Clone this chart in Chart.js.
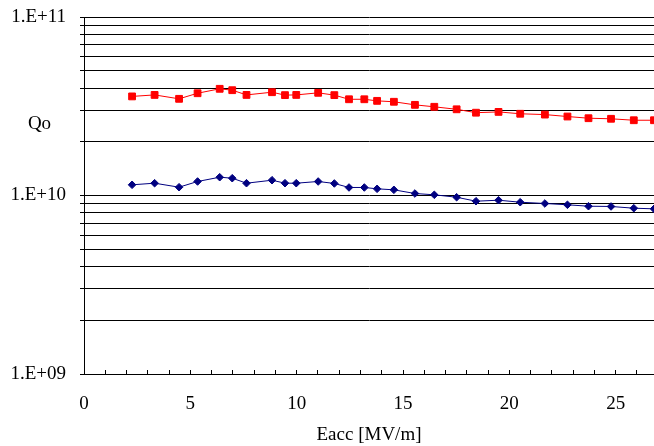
<!DOCTYPE html>
<html>
<head>
<meta charset="utf-8">
<script src="https://cdn.jsdelivr.net/npm/chart.js@4.4.1/dist/chart.umd.min.js"></script>
<style>
  html, body { margin: 0; padding: 0; background: #fff; }
  #wrap { width: 654px; height: 446px; position: relative; }
</style>
</head>
<body>
<div id="wrap"><canvas id="c" width="654" height="446"></canvas></div>
<script>
// Eacc [MV/m] values (shared by both series)
const eacc = [2.26, 3.32, 4.47, 5.34, 6.38, 6.97, 7.64, 8.84, 9.45, 9.98, 11.01, 11.77, 12.46, 13.18, 13.78,
              14.57, 15.56, 16.47, 17.52, 18.43, 19.49, 20.51, 21.67, 22.73, 23.72, 24.78, 25.85, 26.8];
// Qo, upper series (red squares)
const qoRed = [3.59e10, 3.66e10, 3.48e10, 3.74e10, 3.96e10, 3.89e10, 3.66e10, 3.79e10, 3.65e10, 3.66e10, 3.76e10, 3.65e10, 3.46e10, 3.46e10, 3.39e10,
               3.35e10, 3.22e10, 3.14e10, 3.04e10, 2.91e10, 2.94e10, 2.87e10, 2.84e10, 2.77e10, 2.71e10, 2.69e10, 2.64e10, 2.64e10];
// Qo, lower series (navy diamonds)
const qoBlue = [1.148e10, 1.172e10, 1.113e10, 1.198e10, 1.266e10, 1.250e10, 1.172e10, 1.218e10, 1.172e10, 1.172e10, 1.198e10, 1.168e10, 1.109e10, 1.109e10, 1.090e10,
                1.076e10, 1.026e10, 1.009e10, 0.978e10, 0.929e10, 0.941e10, 0.917e10, 0.902e10, 0.887e10, 0.871e10, 0.868e10, 0.849e10, 0.842e10];
// Axis ticks
const xTicks = [0,1,2,3,4,5,6,7,8,9,10,11,12,13,14,15,16,17,18,19,20,21,22,23,24,25,26];
const xLabelled = [0, 5, 10, 15, 20, 25];
const yTicks = [1e9,2e9,3e9,4e9,5e9,6e9,7e9,8e9,9e9,1e10,2e10,3e10,4e10,5e10,6e10,7e10,8e10,9e10,1e11];
const yLabels = {"1000000000": "1.E+09", "10000000000": "1.E+10", "100000000000": "1.E+11"};
const xTitle = "Eacc [MV/m]";
const yTitle = "Qo";

const FONT = "'Liberation Serif', 'Times New Roman', serif";

const yTitlePlugin = {
  id: 'yTitle',
  afterDraw(chart) {
    const ctx = chart.ctx;
    ctx.save();
    ctx.font = "19px " + FONT;
    ctx.fillStyle = '#000';
    ctx.textAlign = 'center';
    ctx.textBaseline = 'alphabetic';
    ctx.fillText(yTitle, 39.5, 129);
    ctx.restore();
  }
};

const noPad = (s) => { s.paddingTop = 0; s.paddingBottom = 0; s.paddingLeft = 0; s.paddingRight = 0; };
const toPts = (ys) => eacc.map((x, i) => ({x: x, y: ys[i]}));

new Chart(document.getElementById('c'), {
  type: 'scatter',
  data: {
    datasets: [
      {
        data: toPts(qoRed),
        showLine: true,
        borderColor: '#FF0000',
        backgroundColor: '#FF0000',
        borderWidth: 1,
        pointStyle: 'rect',
        pointRadius: 4.8,
        pointBorderWidth: 1,
        pointBorderColor: '#FF0000',
        pointBackgroundColor: '#FF0000'
      },
      {
        data: toPts(qoBlue),
        showLine: true,
        borderColor: '#000080',
        backgroundColor: '#000080',
        borderWidth: 1,
        pointStyle: 'rectRot',
        pointRadius: 3.8,
        pointBorderWidth: 1,
        pointBorderColor: '#000080',
        pointBackgroundColor: '#000080'
      }
    ]
  },
  options: {
    responsive: false,
    animation: false,
    events: [],
    layout: { autoPadding: false, padding: { top: 17, right: 0, left: 0, bottom: 0 } },
    plugins: { legend: { display: false }, tooltip: { enabled: false } },
    scales: {
      x: {
        type: 'linear',
        min: 0,
        max: 26.8,
        afterBuildTicks: (s) => { s.ticks = xTicks.map(v => ({value: v})); },
        afterFit: (s) => { s.height = 72; noPad(s); },
        grid: { drawOnChartArea: false, drawTicks: true, tickLength: -4, color: '#000', tickColor: '#000', lineWidth: 1 },
        border: { display: true, color: '#000', width: 1 },
        ticks: {
          autoSkip: false,
          maxRotation: 0,
          padding: 23,
          color: '#000',
          font: { family: FONT, size: 19 },
          callback: (v) => xLabelled.includes(v) ? String(v) : ''
        },
        title: {
          display: true,
          text: xTitle,
          color: '#000',
          font: { family: FONT, size: 19 },
          padding: { top: 0, bottom: 0 }
        }
      },
      y: {
        type: 'logarithmic',
        min: 1e9,
        max: 1e11,
        afterBuildTicks: (s) => { s.ticks = yTicks.map(v => ({value: v})); },
        afterFit: (s) => { s.width = 84; noPad(s); },
        grid: { drawOnChartArea: true, drawTicks: true, tickLength: 4, color: '#000', tickColor: '#000', lineWidth: 1 },
        border: { display: true, color: '#000', width: 1 },
        ticks: {
          autoSkip: false,
          padding: 14,
          color: '#000',
          font: { family: FONT, size: 19 },
          callback: (v) => yLabels[String(v)] || ''
        }
      }
    }
  },
  plugins: [yTitlePlugin]
});
</script>
</body>
</html>
